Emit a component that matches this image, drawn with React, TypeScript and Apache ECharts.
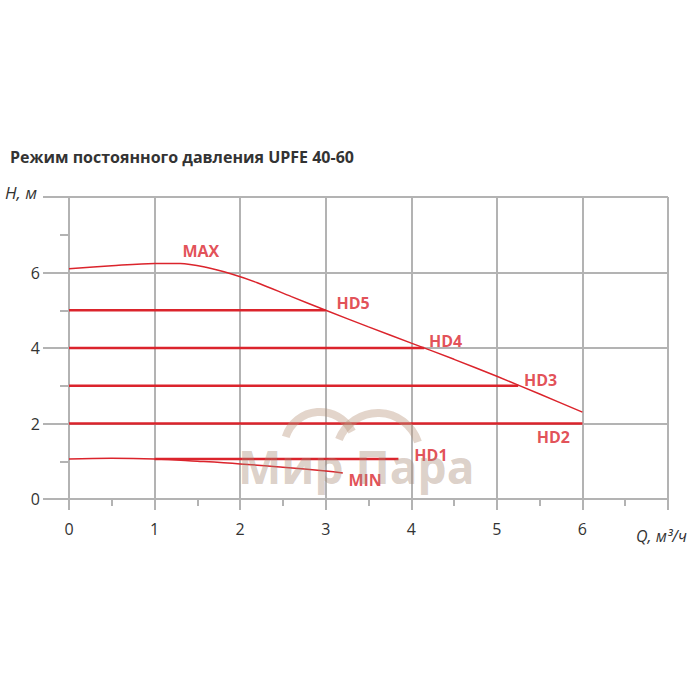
import React, { useEffect, useRef } from "react";
import * as echarts from "echarts";

const titleText = "Режим постоянного давления UPFE 40-60";
const xTicks = [0, 1, 2, 3, 4, 5, 6];
const yTicks = [0, 2, 4, 6];

const maxCurve: [number, number][] = [
  [0, 6.1], [0.5, 6.18], [1, 6.24], [1.3, 6.24], [1.6, 6.14], [1.9, 5.96],
  [2.2, 5.73], [2.6, 5.36], [3, 5.0], [3.5, 4.56], [4, 4.13], [4.5, 3.7],
  [5, 3.25], [5.5, 2.78], [6, 2.3],
];
const minCurve: [number, number][] = [
  [0, 1.06], [0.5, 1.08], [1, 1.06], [1.5, 1.0], [2, 0.93], [2.5, 0.84],
  [3, 0.74], [3.2, 0.69],
];
const hdLines: { name: string; y: number; xStart: number; xEnd: number }[] = [
  { name: "HD5", y: 5, xStart: 0, xEnd: 3 },
  { name: "HD4", y: 4, xStart: 0, xEnd: 4.15 },
  { name: "HD3", y: 3, xStart: 0, xEnd: 5.25 },
  { name: "HD2", y: 2, xStart: 0, xEnd: 6 },
  { name: "HD1", y: 1.06, xStart: 1, xEnd: 3.85 },
];
const curveLabels: { name: string; x: number; y: number }[] = [
  { name: "MAX", x: 1.54, y: 6.58 },
  { name: "HD5", x: 3.32, y: 5.2 },
  { name: "HD4", x: 4.4, y: 4.19 },
  { name: "HD3", x: 5.51, y: 3.16 },
  { name: "HD2", x: 5.66, y: 1.64 },
  { name: "HD1", x: 4.23, y: 1.17 },
  { name: "MIN", x: 3.46, y: 0.5 },
];

const RED = "#db242c";
const GRID = "#b3b3b3";
const TEXT = "#333333";

export default function App() {
  const ref = useRef<HTMLDivElement>(null);
  useEffect(() => {
    if (!ref.current) return;
    const chart = echarts.init(ref.current, undefined, { renderer: "svg" });
    const series: any[] = [
      {
        type: "line",
        name: "MAX",
        data: maxCurve,
        smooth: 0.3,
        showSymbol: false,
        lineStyle: { color: RED, width: 1.5 },
        z: 3,
      },
      {
        type: "line",
        name: "MIN",
        data: minCurve,
        smooth: 0.4,
        showSymbol: false,
        lineStyle: { color: RED, width: 1.5 },
        z: 3,
      },
      ...hdLines.map((h) => ({
        type: "line",
        name: h.name,
        data: [
          [h.xStart, h.y],
          [h.xEnd, h.y],
        ],
        showSymbol: false,
        lineStyle: { color: RED, width: 2.5 },
        z: 3,
      })),
      {
        type: "scatter",
        name: "labels",
        symbolSize: 0,
        data: curveLabels.map((l) => ({ name: l.name, value: [l.x, l.y] })),
        label: {
          show: true,
          position: "inside",
          formatter: (p: any) => p.name,
          color: RED,
          fontFamily: "Open Sans",
          fontWeight: "bold",
          fontSize: 16,
        },
        z: 4,
      },
    ];
    chart.setOption({
      animation: false,
      grid: { left: 69, right: 32, top: 197, bottom: 201, containLabel: false },
      xAxis: {
        type: "value",
        min: 0,
        max: 7,
        interval: 1,
        axisLine: { show: true, lineStyle: { color: GRID, width: 2 } },
        axisTick: { show: true, length: 11, lineStyle: { color: GRID, width: 2 } },
        minorTick: { show: true, splitNumber: 2, length: 7, lineStyle: { color: GRID, width: 2 } },
        splitLine: { show: true, lineStyle: { color: GRID, width: 2 } },
        axisLabel: {
          margin: 22,
          color: TEXT,
          fontFamily: "Open Sans",
          fontSize: 16,
          formatter: (v: number) => (xTicks.includes(v) ? String(v) : ""),
        },
      },
      yAxis: {
        type: "value",
        min: 0,
        max: 8,
        interval: 2,
        axisLine: { show: true, lineStyle: { color: GRID, width: 2 } },
        axisTick: { show: true, length: 26, lineStyle: { color: GRID, width: 2 } },
        minorTick: { show: true, splitNumber: 2, length: 9, lineStyle: { color: GRID, width: 2 } },
        splitLine: { show: true, lineStyle: { color: GRID, width: 2 } },
        axisLabel: {
          margin: 29,
          color: TEXT,
          fontFamily: "Open Sans",
          fontSize: 16,
          formatter: (v: number) => (yTicks.includes(v) ? String(v) : ""),
        },
      },
      graphic: [
        {
          type: "text",
          left: 10,
          top: 149,
          style: {
            text: titleText,
            fill: TEXT,
            font: "bold 16px 'Open Sans'",
          },
        },
        {
          type: "text",
          left: 5,
          top: 184,
          style: {
            text: "H, м",
            fill: TEXT,
            font: "italic 17px 'Open Sans'",
          },
        },
        {
          type: "text",
          left: 636,
          top: 528,
          style: {
            text: "Q, м³/ч",
            fill: TEXT,
            font: "italic 16px 'Open Sans'",
          },
        },
        {
          type: "arc",
          shape: { cx: 320, cy: 448, r: 36, startAngle: Math.PI * 1.1, endAngle: Math.PI * 1.85 },
          style: { stroke: "rgba(185,150,125,0.4)", lineWidth: 8, fill: "none" },
          z: 10,
        },
        {
          type: "arc",
          shape: { cx: 378, cy: 455, r: 42, startAngle: Math.PI * 1.12, endAngle: Math.PI * 1.9 },
          style: { stroke: "rgba(185,150,125,0.4)", lineWidth: 8, fill: "none" },
          z: 10,
        },
        {
          type: "text",
          left: 238,
          top: 443,
          style: {
            text: "Мир Пара",
            fill: "rgba(165,135,115,0.4)",
            font: "bold 46px 'Open Sans'",
          },
          z: 10,
        },
      ],
      series,
    });
    return () => chart.dispose();
  }, []);
  return (
    <div
      ref={ref}
      style={{ position: "fixed", left: 0, top: 0, width: 700, height: 700, background: "#fff" }}
    />
  );
}
